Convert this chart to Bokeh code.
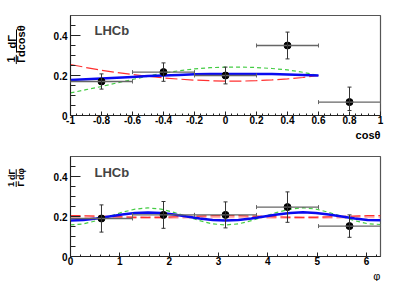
import numpy as np
from bokeh.plotting import figure
from bokeh.layouts import column, row
from bokeh.models import (ColumnDataSource, Range1d, FixedTicker, NumeralTickFormatter,
                          Whisker, TeeHead, Label, Title)
from bokeh.core.properties import value
from bokeh.embed import file_html
from bokeh.resources import INLINE

FONT = "Liberation Sans"

# ---------------- data: cos(theta) panel ----------------
cos_centers = [-0.8, -0.4, 0.0, 0.4, 0.8]
cos_bin_lo = [-1.0, -0.6, -0.2, 0.2, 0.6]
cos_bin_hi = [-0.6, -0.2, 0.2, 0.6, 1.0]
cos_val = [0.170, 0.217, 0.200, 0.350, 0.067]
cos_err_up = [0.038, 0.046, 0.042, 0.067, 0.075]
cos_err_dn = [0.038, 0.046, 0.042, 0.067, 0.042]

cos_curve_x = [-1.0, -0.9, -0.8, -0.7, -0.6, -0.5, -0.4, -0.3, -0.2, -0.1,
               0.0, 0.1, 0.2, 0.3, 0.4, 0.5, 0.6]
cos_blue = [0.177, 0.181, 0.185, 0.189, 0.193, 0.197, 0.200, 0.203, 0.206, 0.207,
            0.208, 0.208, 0.208, 0.207, 0.205, 0.203, 0.200]
cos_red = [0.255, 0.240, 0.226, 0.215, 0.205, 0.196, 0.188, 0.182, 0.177, 0.174,
           0.172, 0.172, 0.174, 0.178, 0.183, 0.190, 0.200]
cos_green = [0.113, 0.129, 0.145, 0.163, 0.180, 0.197, 0.212, 0.224, 0.233, 0.239,
             0.242, 0.242, 0.240, 0.235, 0.228, 0.216, 0.200]

cos_ticks = [-1.0, -0.8, -0.6, -0.4, -0.2, 0.0, 0.2, 0.4, 0.6, 0.8, 1.0]

# ---------------- data: phi panel ----------------
phi_centers = [0.628, 1.885, 3.142, 4.398, 5.655]
phi_bin_lo = [0.0, 1.257, 2.513, 3.770, 5.027]
phi_bin_hi = [1.257, 2.513, 3.770, 5.027, 6.283]
phi_val = [0.190, 0.208, 0.208, 0.247, 0.152]
phi_err = [0.068, 0.067, 0.065, 0.076, 0.056]

phi_curve_x = [0.000, 0.262, 0.524, 0.785, 1.047, 1.309, 1.571, 1.833, 2.094, 2.356,
               2.618, 2.880, 3.142, 3.403, 3.665, 3.927, 4.189, 4.451, 4.712, 4.974,
               5.236, 5.498, 5.760, 6.021, 6.283]
phi_blue = [0.180, 0.183, 0.190, 0.200, 0.210, 0.217, 0.220, 0.217, 0.210, 0.200,
            0.190, 0.183, 0.180, 0.183, 0.190, 0.200, 0.210, 0.217, 0.221, 0.217,
            0.210, 0.200, 0.190, 0.183, 0.181]
phi_green = [0.158, 0.163, 0.179, 0.200, 0.221, 0.237, 0.243, 0.237, 0.221, 0.200,
             0.179, 0.163, 0.158, 0.163, 0.179, 0.200, 0.221, 0.237, 0.244, 0.237,
             0.221, 0.200, 0.179, 0.164, 0.160]
phi_red = [0.205, 0.204, 0.202, 0.200, 0.198, 0.196, 0.195, 0.196, 0.198, 0.200,
           0.202, 0.204, 0.205, 0.204, 0.202, 0.200, 0.198, 0.196, 0.195, 0.196,
           0.198, 0.200, 0.202, 0.204, 0.205]
phi_red_band = [0.199, 0.199, 0.198, 0.197, 0.196, 0.195, 0.195, 0.195, 0.196, 0.197,
                0.198, 0.199, 0.199, 0.199, 0.198, 0.197, 0.196, 0.195, 0.195, 0.195,
                0.196, 0.197, 0.198, 0.199, 0.199]

phi_ticks = [0, 1, 2, 3, 4, 5, 6]

y_ticks = [0.0, 0.2, 0.4]
y_minor = [0.05, 0.1, 0.15, 0.25, 0.3, 0.35, 0.45]

BLUE = "#0a0af0"
RED = "#ff3030"
GREEN = "#44cc44"


def style_main(p, xticks, xminor):
    p.xgrid.visible = False
    p.ygrid.visible = False
    p.outline_line_color = "#555555"
    p.outline_line_width = 1.2
    p.background_fill_color = "white"
    p.border_fill_color = "white"
    p.xaxis.ticker = FixedTicker(ticks=xticks, minor_ticks=xminor)
    p.yaxis.ticker = FixedTicker(ticks=y_ticks, minor_ticks=y_minor)
    p.xaxis.formatter = NumeralTickFormatter(format="0.[0]")
    p.yaxis.formatter = NumeralTickFormatter(format="0.[0]")
    for ax in p.xaxis:
        ax.major_tick_in = 4
        ax.major_tick_out = 0
        ax.minor_tick_in = 2
        ax.minor_tick_out = 0
        ax.major_label_standoff = 0
    for ax in p.yaxis:
        ax.major_tick_in = 10
        ax.major_tick_out = 0
        ax.minor_tick_in = 5
        ax.minor_tick_out = 0
        ax.major_label_standoff = 3
    for ax in list(p.xaxis) + list(p.yaxis):
        ax.axis_line_color = "#222222"
        ax.axis_line_width = 1
        ax.major_tick_line_color = "#222222"
        ax.minor_tick_line_color = "#222222"
        ax.major_label_text_font = FONT
        ax.major_label_text_font_style = "bold"
        ax.major_label_text_font_size = "10px"
        ax.major_label_text_color = "black"


def add_points(p, xc, xlo, xhi, yv, ylo, yhi):
    src = ColumnDataSource(dict(x=xc, xlo=xlo, xhi=xhi, y=yv, ylo=ylo, yhi=yhi))
    hw = Whisker(source=src, base="y", lower="xlo", upper="xhi", dimension="width",
                 line_color="#666666", line_width=1.3, level="overlay",
                 lower_head=TeeHead(size=4, line_color="#666666", line_width=1),
                 upper_head=TeeHead(size=4, line_color="#666666", line_width=1))
    vw = Whisker(source=src, base="x", lower="ylo", upper="yhi", dimension="height",
                 line_color="#333333", line_width=1, level="overlay",
                 lower_head=TeeHead(size=4, line_color="#333333", line_width=1),
                 upper_head=TeeHead(size=4, line_color="#333333", line_width=1))
    p.add_layout(hw)
    p.add_layout(vw)
    p.scatter("x", "y", source=src, size=7, color="black")


def label_fig(h, texts, bars, size):
    f = figure(width=48, height=h, x_range=Range1d(0, 48), y_range=Range1d(h, 0),
               output_backend="svg", toolbar_location=None, min_border=0,
               x_axis_location=None, y_axis_location=None)
    f.grid.visible = False
    f.outline_line_color = None
    f.background_fill_color = "white"
    f.border_fill_color = "white"
    tx, ty, tt = zip(*texts)
    f.text(x=list(tx), y=list(ty), text=list(tt), angle=np.pi / 2,
           text_font=value(FONT), text_font_style="bold", text_font_size=size,
           text_align="center", text_baseline="middle", text_color="black")
    bx, by0, by1 = zip(*bars)
    f.segment(x0=list(bx), y0=list(by0), x1=list(bx), y1=list(by1),
              line_color="black", line_width=1)
    return f


def axis_title(text, bold, size):
    return Title(text=text, align="right", text_font=FONT,
                 text_font_style="bold" if bold else "normal",
                 text_font_size=size, standoff=0, offset=0, text_color="black")


# ---------------- top panel ----------------
p1 = figure(width=344, height=140, x_range=Range1d(-1, 1), y_range=Range1d(0, 0.5),
            output_backend="svg", toolbar_location=None,
            min_border_left=22, min_border_right=12, min_border_top=15, min_border_bottom=25)
style_main(p1, cos_ticks, [round(v, 2) for v in np.arange(-1, 1.001, 0.04)])
p1.line(cos_curve_x, cos_red, line_color=RED, line_width=1.2, line_dash="12 4")
p1.line(cos_curve_x, cos_green, line_color=GREEN, line_width=1.2, line_dash="4 3")
p1.line(cos_curve_x, cos_blue, line_color=BLUE, line_width=2.5)
add_points(p1, cos_centers, cos_bin_lo, cos_bin_hi, cos_val,
           [v - e for v, e in zip(cos_val, cos_err_dn)],
           [v + e for v, e in zip(cos_val, cos_err_up)])
p1.add_layout(Label(x=-0.845, y=0.425, text="LHCb", text_font=FONT, text_font_style="bold",
                    text_font_size="13px", text_align="left", text_baseline="middle"))
p1.add_layout(axis_title("cosθ", True, "11px"), "below")

l1 = label_fig(140,
               [(10.8, 61.5, "1"), (20.0, 61.5, "Γ"), (11.7, 37.0, "dΓ"), (20.3, 36.0, "dcosθ")],
               [(15.8, 55.0, 68.0), (16.0, 19.5, 52.0)], "11px")

# ---------------- bottom panel ----------------
p2 = figure(width=344, height=141, x_range=Range1d(0, 2 * np.pi), y_range=Range1d(0, 0.5),
            output_backend="svg", toolbar_location=None,
            min_border_left=22, min_border_right=12, min_border_top=16, min_border_bottom=25)
style_main(p2, phi_ticks, [round(v, 1) for v in np.arange(0, 6.3, 0.2)])
p2.line(phi_curve_x, phi_red_band, line_color=RED, line_alpha=0.35, line_width=3, line_dash="10 4")
p2.line(phi_curve_x, phi_red, line_color=RED, line_width=1.2, line_dash="10 4")
p2.line(phi_curve_x, phi_green, line_color=GREEN, line_width=1.2, line_dash="4 3")
p2.line(phi_curve_x, phi_blue, line_color=BLUE, line_width=2.5)
add_points(p2, phi_centers, phi_bin_lo, phi_bin_hi, phi_val,
           [v - e for v, e in zip(phi_val, phi_err)],
           [v + e for v, e in zip(phi_val, phi_err)])
p2.add_layout(Label(x=0.487, y=0.4215, text="LHCb", text_font=FONT, text_font_style="bold",
                    text_font_size="13px", text_align="left", text_baseline="middle"))
p2.add_layout(axis_title("φ", False, "11px"), "below")

l2 = label_fig(141,
               [(10.8, 39.0, "1"), (20.3, 38.5, "Γ"), (11.2, 25.5, "dΓ"), (20.5, 24.7, "dφ")],
               [(15.7, 35.0, 43.0), (15.7, 18.0, 32.0)], "9px")

layout = column(row(l1, p1), row(l2, p2))
open("out.html", "w").write(file_html(layout, INLINE))
